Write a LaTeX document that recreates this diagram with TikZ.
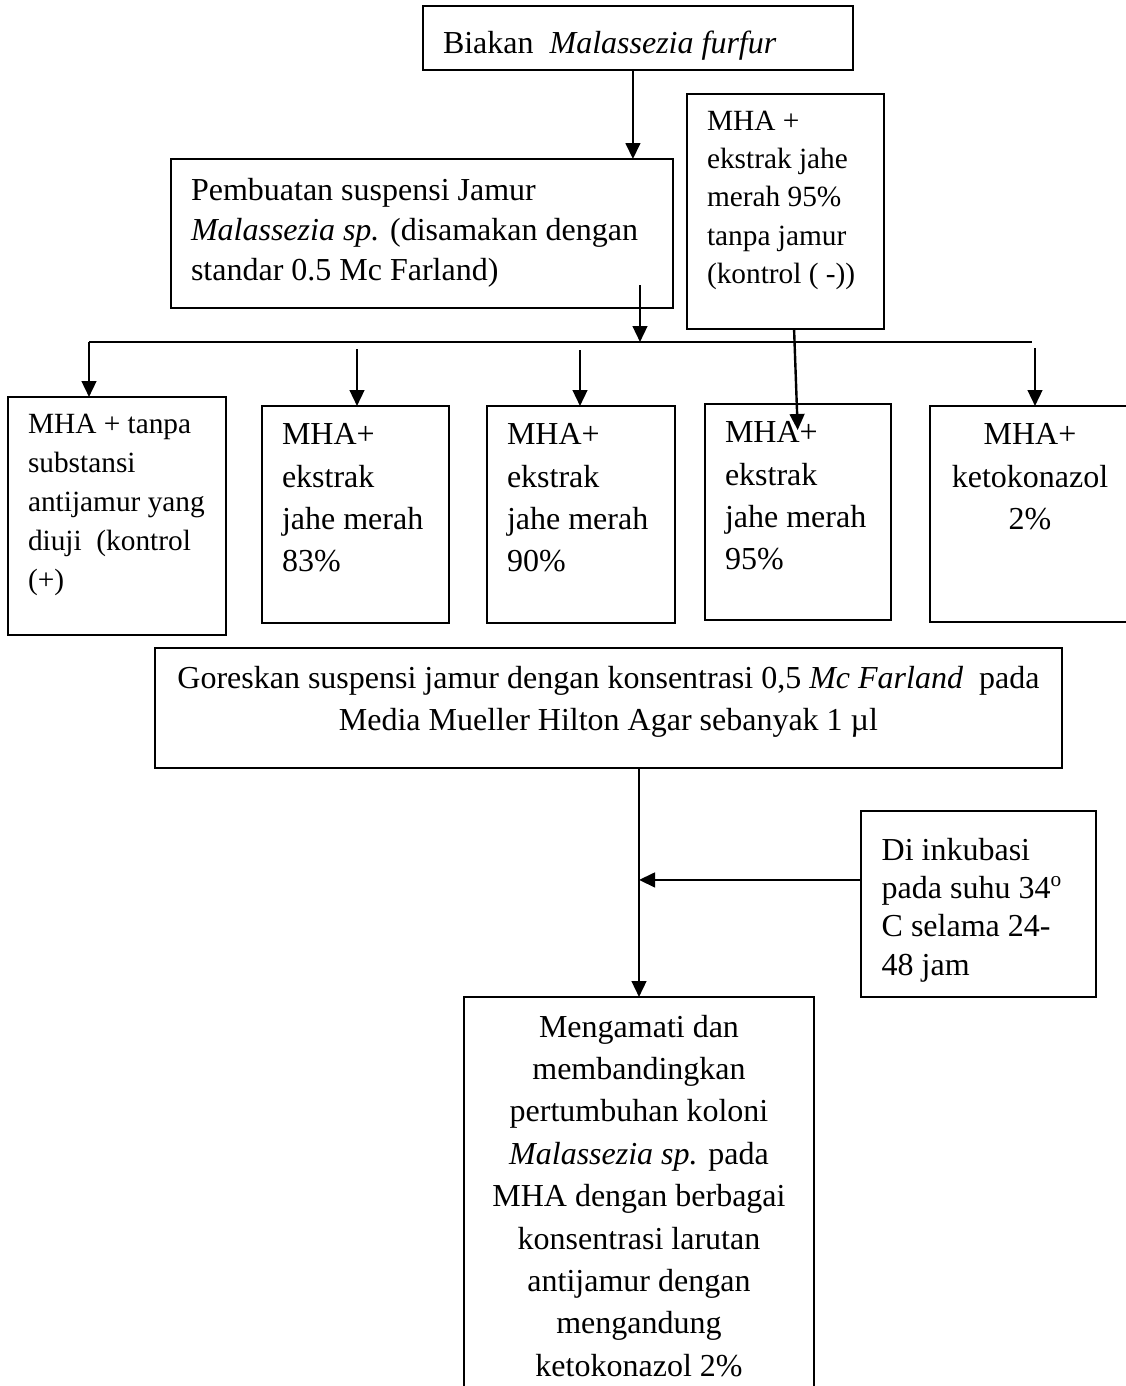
\documentclass[tikz,border=0pt]{standalone}
\usepackage{fontspec}
\setmainfont{Liberation Serif}
\usepackage{tikz}
\usetikzlibrary{arrows.meta}

\begin{document}
\begin{tikzpicture}[x=0.375pt,y=-0.375pt]
\tikzset{box/.style = {draw, line width=0.9pt, anchor=north west, outer sep=0pt, inner xsep=7.5pt, inner ysep=0pt}}
\tikzset{edge/.style = {->, line width=0.9pt, > = {Triangle[length=6pt,width=5.5pt]}}}
\tikzset{bus/.style = {-, line width=0.9pt}}
\useasboundingbox (0,0) rectangle (1126,1386);
\clip (0,0) rectangle (1126,1386);
% top part
\node[box, text height=17.7pt, text depth=6.3pt] (biakan) at (423,6)
  {\parbox[t]{146.25pt}{\fontsize{12}{14}\selectfont\raggedright
   Biakan\ \ \textit{Malassezia furfur}}};
\node[box, text height=15.4pt, text depth=40.5pt] (pembuatan) at (171,159)
  {\parbox[t]{173.25pt}{\fontsize{12}{15}\selectfont\raggedright
   Pembuatan suspensi Jamur\\
   \textit{Malassezia sp.} (disamakan dengan\\
   standar 0.5 Mc Farland)}};
\node[box, text height=13.5pt, text depth=74.6pt] (kontrol) at (687,94)
  {\parbox[t]{58.9pt}{\fontsize{11}{14.4}\selectfont\raggedright
   MHA +\\ ekstrak jahe\\ merah 95\%\\ tanpa jamur\\ (kontrol ( -))}};
% five plates
\node[box, text height=13.5pt, text depth=75.75pt] (kpos) at (8,397)
  {\parbox[t]{66.75pt}{\fontsize{11}{14.7}\selectfont\raggedright
   MHA + tanpa\\ substansi\\ antijamur yang\\ diuji\ \ (kontrol\\ (+)}};
\node[box, text height=14.6pt, text depth=66.75pt] (e83) at (262,406)
  {\parbox[t]{55.1pt}{\fontsize{12}{15.8}\selectfont\raggedright
   MHA+\\ ekstrak\\ jahe merah\\ 83\%}};
\node[box, text height=14.6pt, text depth=66.75pt] (e90) at (487,406)
  {\parbox[t]{55.5pt}{\fontsize{12}{15.8}\selectfont\raggedright
   MHA+\\ ekstrak\\ jahe merah\\ 90\%}};
\node[box, text height=14.6pt, text depth=66.4pt] (e95) at (705,404)
  {\parbox[t]{54.75pt}{\fontsize{12}{15.8}\selectfont\raggedright
   MHA+\\ ekstrak\\ jahe merah\\ 95\%}};
\node[box, text height=14.6pt, text depth=66.4pt] (keto) at (930,406)
  {\parbox[t]{60pt}{\fontsize{12}{15.8}\selectfont\centering
   MHA+\\ ketokonazol\\ 2\%}};
% lower part
\node[box, text height=15pt, text depth=30pt] (goreskan) at (155,648)
  {\parbox[t]{325.1pt}{\fontsize{12}{15.75}\selectfont\centering
   Goreskan suspensi jamur dengan konsentrasi 0,5 \textit{Mc Farland}\ \ pada\\
   Media Mueller Hilton Agar sebanyak 1 µl}};
\node[box, inner xsep=7.75pt, text height=18.4pt, text depth=51.3pt] (inkubasi) at (861,811)
  {\parbox[t]{72.6pt}{\fontsize{12}{14.4}\selectfont\raggedright
   Di inkubasi\\ pada suhu 34\textsuperscript{o}\\ C selama 24-\\ 48 jam}};
\node[box, text height=15pt, text depth=142.9pt] (mengamati) at (464,997)
  {\parbox[t]{116.25pt}{\fontsize{12}{15.9}\selectfont\centering
   Mengamati dan\\ membandingkan\\ pertumbuhan koloni\\
   \textit{Malassezia sp.} pada\\ MHA dengan berbagai\\
   konsentrasi larutan\\ antijamur dengan\\ mengandung\\ ketokonazol 2\%}};
% connectors
\coordinate (bk) at ([xshift=-1.9pt]biakan.south);
\draw[edge] (bk) -- (bk |- pembuatan.north);
\coordinate (busL) at (89,342);
\coordinate (busR) at (1032,342);
\draw[bus] (busL) -- (busR);
\coordinate (pbout) at (640,285);
\draw[edge] (pbout) -- (pbout |- busL);
\draw[edge] (busL) -- (busL |- kpos.north);
\coordinate (t83) at (357,349);
\coordinate (t90) at (580,350);
\coordinate (tketo) at (1035,348);
\draw[edge] (t83) -- (t83 |- e83.north);
\draw[edge] (t90) -- (t90 |- e90.north);
\draw[edge] (tketo) -- (tketo |- keto.north);
\coordinate (k95) at (797.7,430);
\draw[edge] ([xshift=3.2pt]kontrol.south) -- (k95);
\draw[edge] (mengamati.north |- goreskan.south) -- (mengamati.north);
\coordinate (inkin) at ([yshift=9pt]inkubasi.west);
\draw[edge] (inkin) -- (inkin -| mengamati.north);
\end{tikzpicture}
\end{document}
